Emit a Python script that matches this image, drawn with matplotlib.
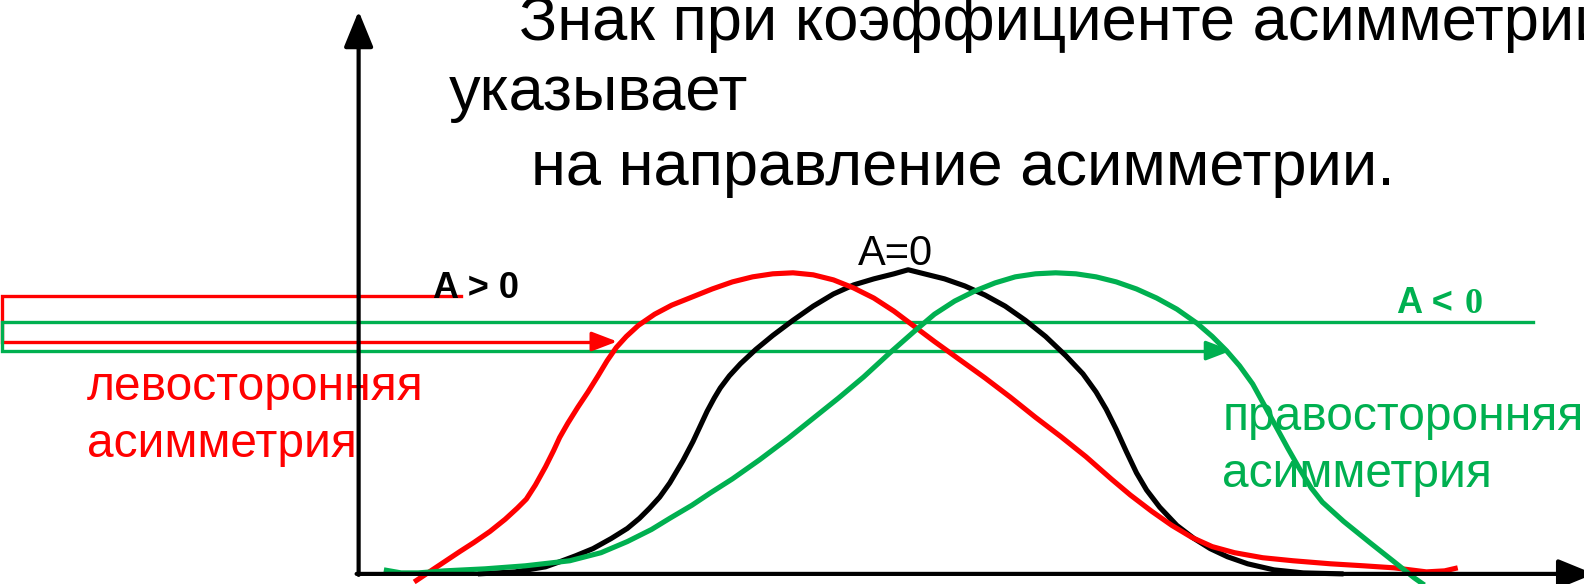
import matplotlib
matplotlib.use("Agg")
import matplotlib.pyplot as plt
from matplotlib.patches import FancyArrowPatch

# ---- data (reference units: image coordinates, y grows downward) ----
black_x = [473, 510, 540, 554, 570, 587, 605, 621, 633, 643, 653, 663, 676, 686, 693, 700, 707, 713,
           722, 733, 748, 765, 785, 805, 825, 845, 865, 885, 899, 915, 935, 955, 975, 995, 1015, 1035,
           1055, 1072, 1085, 1095, 1105, 1115, 1125, 1135, 1148, 1165, 1182, 1198, 1215, 1235, 1261,
           1290, 1330]
black_y = [568, 566, 561, 556, 550, 543, 533, 523, 513, 503, 492, 478, 456, 437, 422, 407, 394, 384,
           372, 360, 346, 332, 317, 303, 291, 282, 276, 271, 267, 271, 276, 283, 292, 303, 317, 333,
           352, 370, 388, 405, 425, 447, 468, 485, 502, 520, 533, 543, 551, 558, 564,
           567, 568]

red_x = [410, 425, 440, 455, 469, 485, 500, 512, 521, 530, 540, 548, 554, 562, 572, 582, 592, 601,
         610, 620, 632, 648, 665, 685, 705, 725, 745, 765, 785, 805, 825, 845, 865, 885, 905, 925,
         950, 975, 1000, 1025, 1050, 1075, 1100, 1119, 1140, 1160, 1180, 1200, 1222, 1250, 1280,
         1317, 1350, 1380, 1412, 1430, 1443]
red_y = [576, 566, 556, 546, 537, 526, 514, 503, 494, 480, 462, 446, 433, 419, 403, 388, 372, 357,
         344, 333, 322, 311, 302, 294, 286, 279, 274, 271, 270, 272, 277, 285, 295, 308, 323, 338,
         356, 374, 393, 413, 432, 452, 474, 490, 506, 520, 532, 541, 547, 552, 555,
         558, 560, 562, 566, 565, 562]

green_x = [380, 397, 414, 440, 480, 520, 564, 595, 621, 645, 663, 685, 703, 725, 752, 780, 805, 830,
           855, 880, 905, 925, 945, 965, 985, 1005, 1025, 1045, 1065, 1085, 1105, 1125, 1145, 1165,
           1185, 1200, 1214, 1227, 1240, 1251, 1263, 1275, 1287, 1298, 1309, 1330, 1356, 1380,
           1400, 1410]
green_y = [564, 567, 567, 565, 563, 560, 555, 547, 536, 524, 513, 500, 488, 474, 455, 434, 414, 394,
           373, 350, 328, 311, 298, 288, 280, 274, 271, 270, 271, 274, 279, 286, 295, 306,
           320, 333, 347, 362, 380, 400, 422, 444, 465, 483, 497, 516, 537, 556,
           572, 579]

title_lines = ["Знак при коэффициенте асимметрии", "указывает", "на направление асимметрии."]
left_label = ["левосторонняя", "асимметрия"]
right_label = ["правосторонняя", "асимметрия"]

RED = "#FF0000"
GREEN = "#00B050"

fig = plt.figure(figsize=(15.84, 5.84), dpi=100)
ax = fig.add_axes([0, 0, 1, 1])
ax.set_xlim(0, 1568)
ax.set_ylim(578, 0)
ax.axis("off")

FONT = "Liberation Sans"
TS = 45.5

# title text
ax.text(514, 40, title_lines[0], fontsize=TS, family=FONT, va="baseline", ha="left")
ax.text(444, 109, title_lines[1], fontsize=TS, family=FONT, va="baseline", ha="left")
ax.text(526, 183, title_lines[2], fontsize=TS, family=FONT, va="baseline", ha="left")

# side labels
ax.text(86, 396, left_label[0], fontsize=34.5, family=FONT, color=RED, va="baseline", zorder=2)
ax.text(86, 452, left_label[1], fontsize=34.5, family=FONT, color=RED, va="baseline", zorder=2)
ax.text(1210, 426, right_label[0], fontsize=34.5, family=FONT, color=GREEN, va="baseline", zorder=2)
ax.text(1210, 482, right_label[1], fontsize=34.5, family=FONT, color=GREEN, va="baseline", zorder=2)

# A labels
ax.text(429, 295, "A > 0", fontsize=26, family=FONT, weight="bold", color="black", va="baseline", zorder=6)
ax.text(1383, 310, "A <", fontsize=26, family=FONT, weight="bold", color=GREEN, va="baseline")
ax.text(1450, 310, "0", fontsize=26, family="Liberation Serif", weight="bold", color=GREEN, va="baseline")
ax.text(849, 262, "A=0", fontsize=30, family=FONT, color="black", va="baseline")

# boxes with arrows
LW_BOX = 2.4
ax.plot([456, 1.5, 1.5, 600], [293, 293, 338, 338], color=RED, lw=LW_BOX, zorder=3,
        solid_joinstyle="miter")
ax.plot([1518, 1.5, 1.5, 1205], [319, 319, 347, 347], color=GREEN, lw=LW_BOX, zorder=3,
        solid_joinstyle="miter")
for (x0, x1, y, c) in [(590, 611, 338, RED), (1195, 1219, 347, GREEN)]:
    ax.add_patch(FancyArrowPatch((x0, y), (x1, y), arrowstyle="-|>,head_length=1.1,head_width=0.42",
                                 mutation_scale=14, color=c, lw=LW_BOX, shrinkA=0, shrinkB=0, zorder=3))

# curves
CW = 3.7
ax.plot(black_x, black_y, color="black", lw=CW, zorder=4, solid_joinstyle="round", solid_capstyle="butt")
ax.plot(red_x, red_y, color=RED, lw=CW, zorder=4, solid_joinstyle="round", solid_capstyle="butt")
ax.plot(green_x, green_y, color=GREEN, lw=CW, zorder=4, solid_joinstyle="round", solid_capstyle="butt")

# axes arrows
ax.add_patch(FancyArrowPatch((355, 569), (355, 11), arrowstyle="-|>,head_length=1.1,head_width=0.45",
                             mutation_scale=20, color="black", lw=3.0, shrinkA=0, shrinkB=0, zorder=5))
ax.add_patch(FancyArrowPatch((353, 568), (1578, 568), arrowstyle="-|>,head_length=1.1,head_width=0.45",
                             mutation_scale=20, color="black", lw=3.0, shrinkA=0, shrinkB=0, zorder=5,
                             clip_on=False))

fig.savefig("out.png", dpi=100)
